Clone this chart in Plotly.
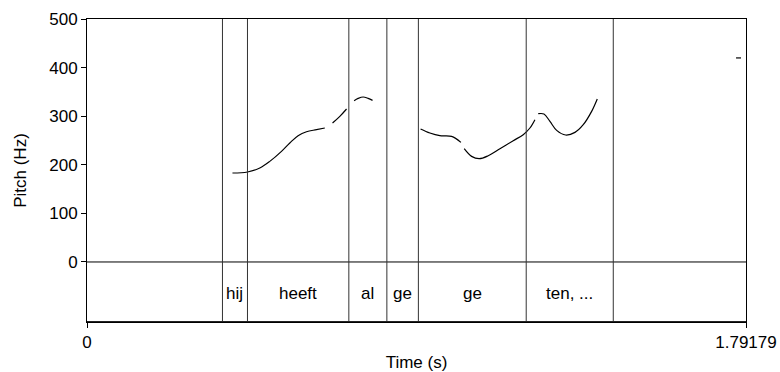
import plotly.graph_objects as go

# Pitch contour segments (time s, pitch Hz)
seg1_t = [0.3955, 0.4363, 0.4698, 0.4970, 0.5288, 0.5514, 0.5740, 0.5968, 0.6240, 0.6466]
seg1_f = [183.1, 185.2, 193.4, 207.0, 227.6, 244.9, 259.9, 268.1, 272.2, 275.7]
seg2_t = [0.6676, 0.6874, 0.7057]
seg2_f = [286.0, 299.6, 314.8]
seg3_t = [0.7263, 0.7372, 0.7508, 0.7644, 0.7764]
seg3_f = [331.9, 336.6, 339.5, 336.6, 332.5]
seg4_t = [0.9070, 0.9323, 0.9595, 0.9913, 1.0166]
seg4_f = [273.7, 265.4, 259.9, 258.4, 246.1]
seg5_t = [1.0256, 1.0457, 1.0664, 1.0909, 1.1227, 1.1589, 1.1861, 1.2043, 1.2179]
seg5_f = [233.1, 217.3, 212.6, 218.7, 233.1, 249.6, 262.0, 275.7, 292.8]
seg6_t = [1.2269, 1.2424, 1.2587, 1.2770, 1.3014, 1.3267, 1.3493, 1.3721, 1.3874]
seg6_f = [305.1, 304.5, 289.3, 270.8, 261.3, 266.7, 282.5, 309.9, 335.4]
seg7_t = [1.7647, 1.7783]
seg7_f = [419.9, 419.9]

segments = [(seg1_t, seg1_f), (seg2_t, seg2_f), (seg3_t, seg3_f), (seg4_t, seg4_f),
            (seg5_t, seg5_f), (seg6_t, seg6_f), (seg7_t, seg7_f)]

# TextGrid tier
boundaries = [0.3683, 0.4363, 0.7119, 0.8153, 0.9010, 1.1942, 1.4309]
interval_labels = ["", "hij", "heeft", "al", "ge", "ge", "ten, ...", ""]

t_max = 1.79179
y_ticks = [0, 100, 200, 300, 400, 500]
y_min, y_max = -123.5, 500

FONT = "Liberation Sans, Arial, Helvetica, sans-serif"
FS = 17

fig = go.Figure()
for t, f in segments:
    fig.add_trace(go.Scatter(x=t, y=f, mode="lines", line=dict(color="black", width=1.2, shape="spline"),
                             hoverinfo="skip", showlegend=False))

# tier line at 0
fig.add_shape(type="line", xref="x", yref="y", x0=0, x1=t_max, y0=0, y1=0,
              line=dict(color="black", width=1))
for b in boundaries:
    fig.add_shape(type="line", xref="x", yref="y", x0=b, x1=b, y0=y_min, y1=y_max,
                  line=dict(color="#333333", width=1))
# thicker bottom line of tier
fig.add_shape(type="line", xref="x", yref="y", x0=0, x1=t_max, y0=y_min, y1=y_min,
              line=dict(color="#222222", width=2))

edges = [0] + boundaries + [t_max]
for i, lab in enumerate(interval_labels):
    if lab:
        fig.add_annotation(x=(edges[i] + edges[i + 1]) / 2, y=y_min / 2 - 4, text=lab, showarrow=False,
                           xref="x", yref="y", font=dict(family=FONT, size=FS, color="black"))

fig.update_layout(
    width=780, height=372,
    margin=dict(l=87, r=34, t=19, b=50),
    plot_bgcolor="white", paper_bgcolor="white",
    font=dict(family=FONT, size=FS, color="black"),
    xaxis=dict(range=[0, t_max], tickvals=[0, t_max], ticktext=["0", "1.79179"],
               ticks="outside", ticklen=5, tickcolor="black", showline=True, linecolor="black",
               linewidth=1, mirror=True, showgrid=False, zeroline=False, automargin=False,
               ticklabelstandoff=0,
               title=dict(text="Time (s)", standoff=4, font=dict(family=FONT, size=FS))),
    yaxis=dict(range=[y_min, y_max], tickvals=y_ticks, ticks="outside", ticklen=5, tickcolor="black",
               showline=True, linecolor="black", linewidth=1, mirror=True, showgrid=False,
               zeroline=False, automargin=False, ticklabelstandoff=0,
               title=dict(text="Pitch (Hz)", standoff=18, font=dict(family=FONT, size=FS))),
)

fig.write_html("out.html", post_script="document.body.style.margin='0';",
               config={"displayModeBar": False})
